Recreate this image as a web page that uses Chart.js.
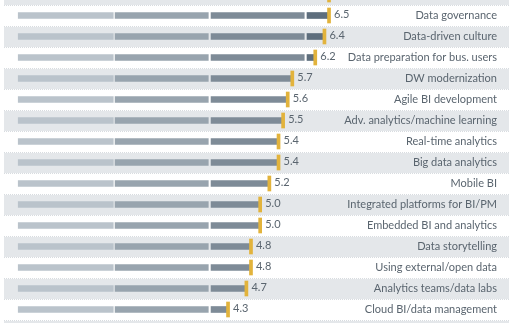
<!DOCTYPE html>
<html>
<head>
<meta charset="utf-8">
<script src="https://cdn.jsdelivr.net/npm/chart.js@4.4.1/dist/chart.umd.min.js"></script>
<style>
  html, body { margin: 0; padding: 0; background: #ffffff; overflow: hidden; width: 516px; height: 323px; }
  #wrap { position: absolute; left: 0; top: -16px; width: 516px; height: 360px; }
</style>
</head>
<body>
<div id="wrap"><canvas id="chart"></canvas></div>
<script>
// Trend ratings (top row continues above the visible area)
const categories = [
  '',
  'Data governance',
  'Data-driven culture',
  'Data preparation for bus. users',
  'DW modernization',
  'Agile BI development',
  'Adv. analytics/machine learning',
  'Real-time analytics',
  'Big data analytics',
  'Mobile BI',
  'Integrated platforms for BI/PM',
  'Embedded BI and analytics',
  'Data storytelling',
  'Using external/open data',
  'Analytics teams/data labs',
  'Cloud BI/data management'
];
const scores = [6.5, 6.5, 6.4, 6.2, 5.7, 5.6, 5.5, 5.4, 5.4, 5.2, 5.0, 5.0, 4.8, 4.8, 4.7, 4.3];

// Value bands that split each bar into graded segments
const bandEdges = [[-0.27, 1.8], [1.84, 3.87], [3.93, 5.96], [6.02, 99]];
const bandColors = ['#bac3cb', '#98a4ae', '#7e8b97', '#5e6e7d'];
const markerColor = '#e2b33c';
const stripeColor = '#e4e7ea';
const textColor = '#5a656f';

const bandDatasets = bandEdges.map((edge, k) => ({
  label: 'band' + k,
  data: scores.map(v => (v > edge[0] ? [edge[0], Math.min(edge[1], v)] : null)),
  backgroundColor: bandColors[k],
  barThickness: 6,
  grouped: false,
  borderWidth: 0
}));

const markerDataset = {
  label: 'score',
  data: scores.map(v => [v - 0.033, v + 0.033]),
  backgroundColor: markerColor,
  barThickness: 15,
  grouped: false,
  borderWidth: 0
};

// Alternating row stripes with dotted separators
const stripes = {
  id: 'stripes',
  beforeDatasetsDraw(chart) {
    const { ctx, chartArea, scales: { y } } = chart;
    const step = y.getPixelForValue(1) - y.getPixelForValue(0);
    ctx.save();
    for (let i = 0; i <= categories.length; i++) {
      const top = y.getPixelForValue(i) - step / 2;
      if (i % 2 === 0) {
        ctx.fillStyle = stripeColor;
        ctx.fillRect(chartArea.left, top + 1, chartArea.right - chartArea.left, step - 1);
      }
      ctx.strokeStyle = '#d8dce0';
      ctx.lineWidth = 1;
      ctx.setLineDash([1, 1]);
      ctx.beginPath();
      ctx.moveTo(chartArea.left, Math.round(top) + 0.5);
      ctx.lineTo(chartArea.right, Math.round(top) + 0.5);
      ctx.stroke();
    }
    ctx.restore();
  }
};

// Score values beside the markers and category names at the right edge
const labels = {
  id: 'labels',
  afterDatasetsDraw(chart) {
    const { ctx, chartArea, scales: { x, y } } = chart;
    ctx.save();
    ctx.font = '11px Lato, "Open Sans", sans-serif';
    ctx.fillStyle = textColor;
    ctx.textBaseline = 'middle';
    categories.forEach((name, i) => {
      if (!name) return;
      const cy = y.getPixelForValue(i);
      ctx.textAlign = 'left';
      ctx.fillText(scores[i].toFixed(1), x.getPixelForValue(scores[i]) + 5, cy - 1);
      ctx.textAlign = 'right';
      ctx.fillText(name, chartArea.right - 12, cy);
    });
    ctx.restore();
  }
};

new Chart(document.getElementById('chart'), {
  type: 'bar',
  data: { labels: categories, datasets: [markerDataset, ...bandDatasets] },
  options: {
    indexAxis: 'y',
    responsive: true,
    maintainAspectRatio: false,
    animation: false,
    layout: { padding: { left: 4, right: 7, top: 0, bottom: 24 } },
    plugins: { legend: { display: false }, tooltip: { enabled: false } },
    scales: {
      x: { display: false, min: -0.58, max: 10.42 },
      y: { display: false, offset: true }
    }
  },
  plugins: [stripes, labels]
});
</script>
</body>
</html>
